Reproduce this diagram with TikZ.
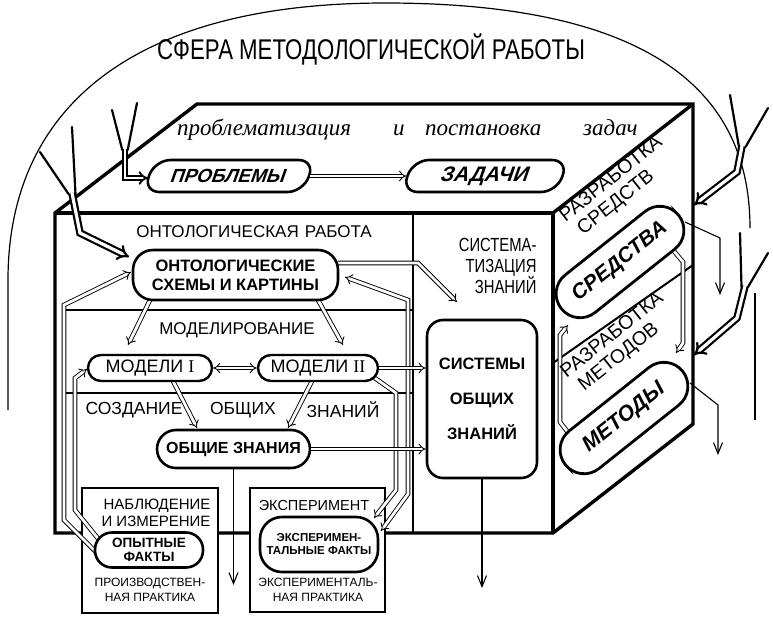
\documentclass[tikz,border=0pt]{standalone}
\usepackage{fontspec}
\setmainfont{Liberation Sans}
\newfontfamily\condf[FakeStretch=0.78]{Liberation Sans}
\newfontfamily\serf{Liberation Serif}
\usetikzlibrary{arrows.meta}
\newcommand\fsz[2]{\fontsize{#1}{#2}\selectfont}
\begin{document}
\begin{tikzpicture}[x=1pt,y=-1pt,
  thinl/.style={line width=1.2pt},
  edge/.style={line width=3.4pt, line join=miter},
  dbl/.style={line width=0.9pt, double=white, double distance=2.8pt},
  dtip/.style={-{Implies[scale=1.5]}},
  band/.style={line width=2.2pt, double=white, double distance=3.2pt, -{Implies[scale=1.2]}},
  branch/.style={line width=2.2pt, line cap=round},
  pill/.style={draw, fill=white, line width=2.6pt, rounded corners=#1, inner sep=0pt, align=center},
  pill/.default=13pt,
  tarrow/.style={line width=1.1pt, -{Straight Barb[length=11pt,width=9pt]}},
  sidetxt/.style={rotate=38.5, inner sep=0pt, align=left}]
\useasboundingbox (0,0) rectangle (773,622);

% dome
\draw[thinl] (8,410) -- (8,280) .. controls (8,110) and (130,3) .. (385,3) .. controls (670,3) and (750,105) .. (750,228);
\draw[thinl] (755,293) -- (755,420);
\node (title) at (371,49) {\condf\fsz{28.5}{30}СФЕРА МЕТОДОЛОГИЧЕСКОЙ РАБОТЫ};

% cube
\draw[edge] (55,533) -- (55,213) -- (197,104) -- (693,104) -- (693,424) -- (553,533) -- cycle;
\draw[edge] (55,213) -- (553,213) -- (553,533);
\draw[edge] (553,213) -- (693,104);
\draw[line width=2pt] (413,213) -- (413,533);
\draw[line width=1.5pt] (63,310) -- (413,310) (63,393) -- (413,393);
\draw[line width=2pt] (553,363) -- (693,265);

% bottom boxes
\node[draw, fill=white, line width=2.6pt, minimum width=136pt, minimum height=125pt, inner sep=0pt] (nabbox) at (150,550.5) {};
\node[draw, fill=white, line width=2.6pt, minimum width=135pt, minimum height=124pt, inner sep=0pt] (expbox) at (317.5,550) {};

% double arrows
\draw[dbl,dtip] (150,300) -- (128,345);
\draw[dbl,dtip] (318,300) -- (343,345);
\draw[dbl,dtip] (173,381) -- (197,428);
\draw[dbl,dtip] (312,381) -- (288,428);
\draw[dbl,dtip] (338,263) -- (418,263) -- (457,302);
\draw[dbl,dtip] (97,553) -- (64,520) -- (64,305) -- (131,272);
\draw[dbl,dtip] (100,541) -- (75,510) -- (75,378) -- (87,369);
\draw[dbl,{Implies[scale=1.5]}-{Implies[scale=1.5]}] (381,531) -- (408,494) -- (408,300) -- (345,277);
\draw[dbl,dtip] (372,376) -- (396,393) -- (396,490) -- (374,518);
\draw[dbl,dtip] (673,250) -- (683,262) -- (683,343) -- (676,353);
\draw[dbl,dtip] (570,435) -- (560,422) -- (560,335) -- (568,325);

% pills front
\node[pill=20pt, minimum width=205pt, minimum height=50pt, font=\bfseries\fsz{16.5}{19}] (ont) at (235.5,275) {ОНТОЛОГИЧЕСКИЕ\\СХЕМЫ И КАРТИНЫ};
\node[pill=13pt, minimum width=124pt, minimum height=26pt, font=\fsz{18}{18}, line width=2.4pt] (mod1) at (150,368) {МОДЕЛИ {\serf I}};
\node[pill=13pt, minimum width=120pt, minimum height=26pt, font=\fsz{18}{18}, line width=2.4pt] (mod2) at (318,368) {МОДЕЛИ {\serf II}};
\node[pill=19pt, minimum width=153pt, minimum height=38pt, font=\bfseries\fsz{16}{16}] (obsh) at (233.5,449) {ОБЩИЕ ЗНАНИЯ};
\node[pill=16pt, minimum width=110pt, minimum height=158pt, font=\bfseries\fsz{16.5}{35}] (sys) at (482,399) {СИСТЕМЫ\\ОБЩИХ\\ЗНАНИЙ};
\node[pill=17pt, minimum width=108pt, minimum height=35pt, font=\bfseries\fsz{13.5}{14}] (opyt) at (149,550) {ОПЫТНЫЕ\\ФАКТЫ};
\node[pill=22pt, minimum width=118pt, minimum height=55pt, font=\bfseries\fsz{11.5}{13}] (expf) at (319,544.5) {ЭКСПЕРИМЕН-\\ТАЛЬНЫЕ ФАКТЫ};

\draw[dbl,{Implies[scale=1.5]}-{Implies[scale=1.5]}] (mod1.east) -- (mod2.west);
\draw[dbl,dtip] (mod2.east) -- (sys.west |- mod2.east);
\draw[dbl,dtip] (obsh.east) -- (sys.west |- obsh.east);
\draw[tarrow] (obsh.south) -- (233.5,585);
\draw[tarrow] (sys.south) -- (482,588);

% labels front
\node[font=\fsz{17}{17}] (ontlbl) at (254,232) {ОНТОЛОГИЧЕСКАЯ\hspace{6pt}РАБОТА};
\node[font=\fsz{17}{17}] (modlbl) at (237,330) {МОДЕЛИРОВАНИЕ};
\node[font=\fsz{17.5}{17}] (cr1) at (134,410) {СОЗДАНИЕ};
\node[font=\fsz{17.5}{17}] (cr2) at (243,410) {ОБЩИХ};
\node[font=\fsz{17.5}{17}] (cr3) at (343,410) {ЗНАНИЙ};
\node[align=right, anchor=east, font=\condf\fsz{19}{21}] (sistlbl) at (540,266) {СИСТЕМА-\\ТИЗАЦИЯ\\ЗНАНИЙ};
\node[align=right, font=\fsz{15}{17}] (nabl) at (156,513) {НАБЛЮДЕНИЕ\\И ИЗМЕРЕНИЕ};
\node[align=center, font=\fsz{12}{15}] (prpr) at (150,590) {ПРОИЗВОДСТВЕН-\\НАЯ ПРАКТИКА};
\node[font=\fsz{14.5}{15}] (exlbl) at (314,505) {ЭКСПЕРИМЕНТ};
\node[align=center, font=\fsz{12}{15}] (expr) at (318,590) {ЭКСПЕРИМЕНТАЛЬ-\\НАЯ ПРАКТИКА};

% top face
\node[anchor=base west, inner sep=0pt, font=\serf\itshape\fsz{23}{23}] (t1) at (177,135) {проблематизация};
\node[anchor=base west, inner sep=0pt, font=\serf\itshape\fsz{23}{23}] (t2) at (393,135) {и};
\node[anchor=base west, inner sep=0pt, font=\serf\itshape\fsz{23}{23}] (t3) at (425,135) {постановка};
\node[anchor=base west, inner sep=0pt, font=\serf\itshape\fsz{23}{23}] (t4) at (583,135) {задач};
\node[pill=16pt, minimum width=160pt, minimum height=32pt, xslant=0.35, font=\bfseries\fsz{19}{19}] (probl) at (229,176) {ПРОБЛЕМЫ};
\node[pill=16pt, minimum width=155pt, minimum height=32pt, xslant=0.35, font=\bfseries\fsz{21}{21}] (zad) at (485,176) {ЗАДАЧИ};
\draw[dbl,dtip] (probl.east) -- (zad.west);

% side face
\node[pill=24pt, minimum width=150pt, minimum height=48pt, rotate=38.5, line width=2.8pt, font=\bfseries\itshape\fsz{21}{21}] (sred) at (620,262) {СРЕДСТВА};
\node[pill=24pt, minimum width=150pt, minimum height=48pt, rotate=38.5, line width=2.8pt, font=\bfseries\itshape\fsz{21.5}{22}] (meth) at (624,418) {МЕТОДЫ};
\node[sidetxt, font=\fsz{19.5}{21}] (rs) at (618,188) {РАЗРАБОТКА\\\hspace{6pt}СРЕДСТВ};
\node[sidetxt, font=\fsz{19.5}{21}] (rm) at (619,344) {РАЗРАБОТКА\\\hspace{6pt}МЕТОДОВ};
\draw[tarrow] (685,222) -- (720,238) -- (720,295);
\draw[tarrow] (690,383) -- (718,405) -- (718,455);

% Y-shaped inputs
\draw[branch] (112,110) -- (122.3,150);
\draw[branch] (137,103) -- (127.7,150);
\draw[band, line width=1.8pt, double distance=2.6pt] (125,149) -- (125,178) -- (148,178);

\draw[branch] (40,152) -- (68.5,194);
\draw[branch] (72,127) -- (75.5,194);
\draw[band] (72,193) -- (80,233) -- (129,257);

\draw[branch] (730,95) -- (739,147);
\draw[branch] (768,108) -- (745.5,147);
\draw[band] (742,146) -- (737,172) -- (694,205);

\draw[branch] (740,233) -- (741.5,287);
\draw[branch] (768,253) -- (748,287);
\draw[band] (745,286) -- (737,318) -- (694,355);
\end{tikzpicture}
\end{document}
